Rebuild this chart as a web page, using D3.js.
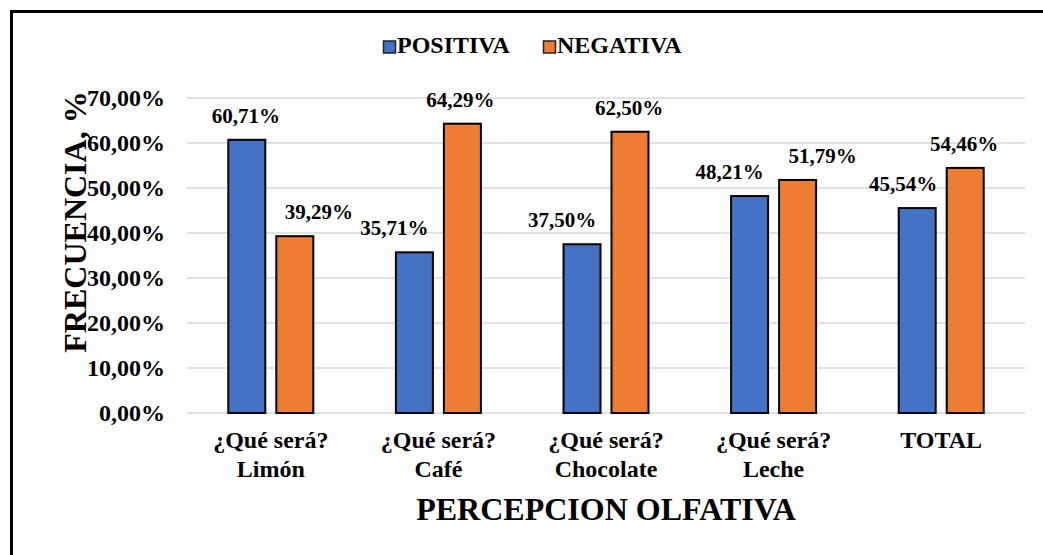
<!DOCTYPE html>
<html lang="es">
<head>
<meta charset="utf-8">
<script src="https://d3js.org/d3.v7.min.js"></script>
<style>
  body { margin: 0; background: #fff; }
</style>
</head>
<body>
<svg id="chart" width="1043" height="555" font-family="'Liberation Serif', 'Times New Roman', serif" font-weight="bold"></svg>
<script>
// data
var categories = [["¿Qué será?", "Limón"], ["¿Qué será?", "Café"], ["¿Qué será?", "Chocolate"], ["¿Qué será?", "Leche"], ["TOTAL"]];
var series = ["POSITIVA", "NEGATIVA"];
var positiva = [60.71, 35.71, 37.50, 48.21, 45.54];
var negativa = [39.29, 64.29, 62.50, 51.79, 54.46];
var yTicks = [0, 10, 20, 30, 40, 50, 60, 70];
var colors = ["#4472C4", "#ED7D31"];

// labels were dragged a bit in the original, horizontal nudge per bar
var nudgePos = [-1, -20, -20, -20, -14];
var nudgeNeg = [24, -2, -1, 25, -1];

var svg = d3.select("#chart");
var fmt = function (v) { return v.toFixed(2).replace(".", ",") + "%"; };

// outer frame (cut on right/bottom like the picture)
svg.append("rect")
    .attr("x", 11.5).attr("y", 11.5)
    .attr("width", 1100).attr("height", 600)
    .attr("fill", "none").attr("stroke", "#000").attr("stroke-width", 3);

var x = d3.scaleBand()
    .domain(d3.range(categories.length))
    .range([187, 1025]);

var xSub = d3.scaleBand()
    .domain(series)
    .range([-43.5, 43.5])
    .paddingInner(0.1875);

var y = d3.scaleLinear()
    .domain([0, 70])
    .range([413, 98]);

// gridlines
svg.append("g")
    .selectAll("line")
    .data(yTicks)
    .join("line")
    .attr("x1", 187).attr("x2", 1025)
    .attr("y1", function (d) { return y(d); })
    .attr("y2", function (d) { return y(d); })
    .attr("stroke", "#D9D9D9")
    .attr("stroke-width", 1.5);

// y tick labels
svg.append("g")
    .selectAll("text")
    .data(yTicks)
    .join("text")
    .attr("x", 165)
    .attr("y", function (d) { return y(d) + 8; })
    .attr("text-anchor", "end")
    .attr("font-size", 24)
    .text(function (d) { return fmt(d); });

// bars
var rows = [];
categories.forEach(function (c, i) {
    rows.push({ i: i, s: "POSITIVA", v: positiva[i], c: colors[0], dx: nudgePos[i] });
    rows.push({ i: i, s: "NEGATIVA", v: negativa[i], c: colors[1], dx: nudgeNeg[i] });
});

var cx = function (d) { return x(d.i) + x.bandwidth() / 2 + xSub(d.s); };

svg.append("g")
    .selectAll("rect")
    .data(rows)
    .join("rect")
    .attr("x", function (d) { return cx(d) + 1; })
    .attr("y", function (d) { return y(d.v); })
    .attr("width", xSub.bandwidth() - 2)
    .attr("height", function (d) { return y(0) - y(d.v); })
    .attr("fill", function (d) { return d.c; })
    .attr("stroke", "#000")
    .attr("stroke-width", 2);

// data labels
svg.append("g")
    .selectAll("text")
    .data(rows)
    .join("text")
    .attr("x", function (d) { return cx(d) + xSub.bandwidth() / 2 + d.dx; })
    .attr("y", function (d) { return y(d.v) - 17; })
    .attr("text-anchor", "middle")
    .attr("font-size", 21)
    .text(function (d) { return fmt(d.v); });

// category labels
var cat = svg.append("g")
    .selectAll("text")
    .data(categories)
    .join("text")
    .attr("text-anchor", "middle")
    .attr("font-size", 24);
cat.selectAll("tspan")
    .data(function (d, i) { return d.map(function (t) { return { t: t, i: i }; }); })
    .join("tspan")
    .attr("x", function (d) { return x(d.i) + x.bandwidth() / 2; })
    .attr("y", function (d, j) { return 448 + j * 29; })
    .text(function (d) { return d.t; });

// axis titles
svg.append("text")
    .attr("x", 606).attr("y", 520)
    .attr("text-anchor", "middle")
    .attr("font-size", 32)
    .text("PERCEPCION OLFATIVA");

svg.append("text")
    .attr("transform", "translate(86,222) rotate(-90)")
    .attr("text-anchor", "middle")
    .attr("font-size", 32)
    .text("FRECUENCIA, %");

// legend
var leg = svg.append("g");
var legX = [383, 543];
series.forEach(function (s, i) {
    leg.append("rect")
        .attr("x", legX[i] + 0.5).attr("y", 41)
        .attr("width", 12).attr("height", 12)
        .attr("fill", colors[i])
        .attr("stroke", "#222").attr("stroke-width", 1.5);
    leg.append("text")
        .attr("x", legX[i] + 14).attr("y", 53)
        .attr("font-size", 24)
        .text(s);
});
</script>
</body>
</html>
